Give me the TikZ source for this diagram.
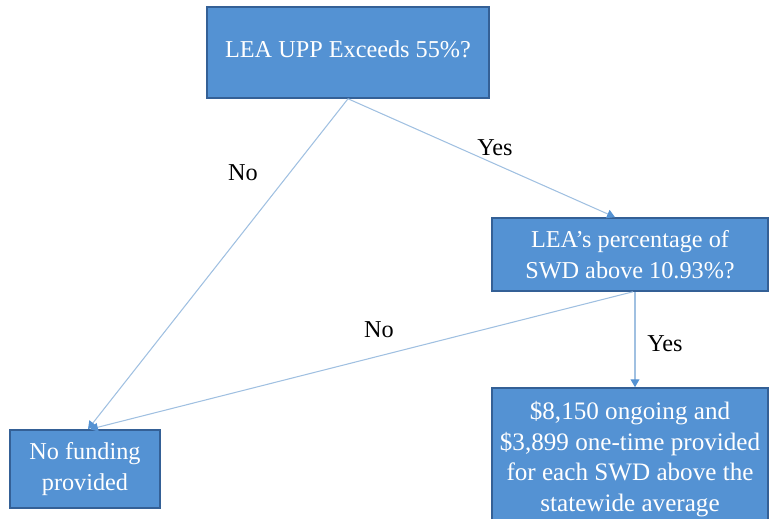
\documentclass[tikz,border=0pt]{standalone}
\usepackage{fontspec}
\setmainfont{LiberationSerif}[Extension=.ttf, UprightFont=*-Regular, BoldFont=*-Bold, ItalicFont=*-Italic, BoldItalicFont=*-BoldItalic]
\definecolor{boxblue}{RGB}{84,146,211}
\definecolor{boxedge}{RGB}{52,96,150}
\definecolor{lineblue}{RGB}{160,192,225}
\usetikzlibrary{arrows.meta}

\begin{document}
\begin{tikzpicture}[x=0.02cm, y=-0.02cm,
  flowbox/.style={draw=boxedge, line width=0.9pt, fill=boxblue, text=white, align=center, inner sep=0pt, font=\fontsize{13.8}{17.3}\selectfont},
  flowline/.style={draw=lineblue, line width=0.6pt, -{Triangle[length=4.5pt, width=5pt, color=boxblue, fill=boxblue]}},
  flowlabel/.style={font=\fontsize{13.8}{17.3}\selectfont, text=black}]
  \useasboundingbox (0,0) rectangle (770,519);
  \clip (0,0) rectangle (770,519);

  %--- Decision boxes ---
  \node[flowbox, minimum width=5.64cm, minimum height=1.82cm] (upp) at (348,52.5) {\raisebox{0.15cm}{LEA UPP Exceeds 55\%?}};
  \node[flowbox, minimum width=5.52cm, minimum height=1.46cm] (pct) at (630,254.5) {LEA's percentage of\\SWD above 10.93\%?};

  %--- Outcomes ---
  \node[flowbox, minimum width=5.52cm, minimum height=2.84cm, font=\fontsize{14.3}{17.5}\selectfont] (fund) at (630,459) {\$8,150 ongoing and\\\$3,899 one-time provided\\for each SWD above the\\statewide average};
  \node[flowbox, minimum width=3cm, minimum height=1.56cm] (none) at (85,469) {No funding\\provided};

  %--- Connectors ---
  \draw[flowline] (upp.south) -- ([xshift=0.06cm]none.north);
  \draw[flowline] (upp.south) -- ([xshift=-0.3cm]pct.north);
  \draw[flowline] ([xshift=0.1cm]pct.south) -- ([xshift=0.1cm]fund.north);
  \draw[flowline] ([xshift=0.06cm]pct.south) -- ([xshift=0.1cm]none.north);

  % branch labels
  \node[flowlabel] (noA) at (243,173) {No};
  \node[flowlabel] (yesA) at (495,148) {Yes};
  \node[flowlabel] (noB) at (379,330) {No};
  \node[flowlabel] (yesB) at (665,344) {Yes};
\end{tikzpicture}
\end{document}
